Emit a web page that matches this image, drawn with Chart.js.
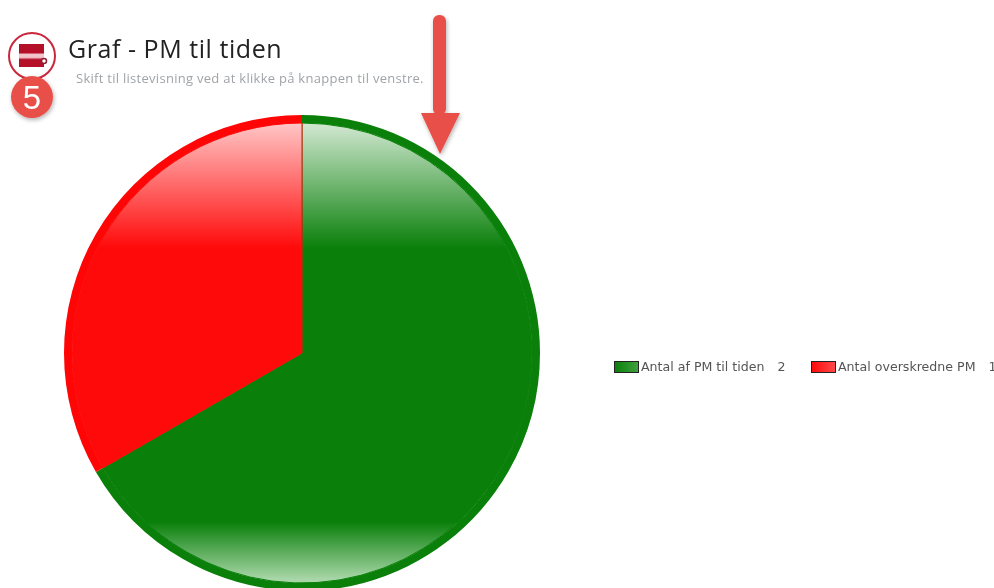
<!DOCTYPE html>
<html>
<head>
<meta charset="utf-8">
<title>Graf - PM til tiden</title>
<script src="https://cdn.jsdelivr.net/npm/chart.js@4"></script>
<style>
    html, body { margin: 0; padding: 0; background: #fff; }
    body { width: 994px; height: 588px; position: relative; overflow: hidden; }
    #pmChart { position: absolute; left: 0; top: 0; }
    #chartTitle { position: absolute; left: 68px; top: 31px; font: 25px "Open Sans", sans-serif; letter-spacing: 0.55px; color: #222; white-space: nowrap; filter: blur(0.3px); }
    #chartHint { position: absolute; left: 76px; top: 69px; font: 13px "Open Sans", sans-serif; letter-spacing: 0.28px; color: #a0a4a8; white-space: nowrap; filter: blur(0.4px); }
    #chartLegend { position: absolute; left: 614px; top: 359px; width: 380px; height: 15px; font: 12.6px "DejaVu Sans", sans-serif; color: #555; white-space: pre; filter: blur(0.4px); }
    #chartLegend .item { position: absolute; top: 0; display: flex; align-items: center; height: 15px; }
    #chartLegend .swatch { width: 23px; height: 10px; border: 1px solid #222; margin-right: 2px; }
    #chartLegend .value { margin-left: 13px; }
    #decor { position: absolute; left: 0; top: 0; }
</style>
</head>
<body>
<canvas id="pmChart" width="994" height="600"></canvas>
<div id="chartTitle">Graf - PM til tiden</div>
<div id="chartHint">Skift til listevisning ved at klikke på knappen til venstre.</div>
<div id="chartLegend"></div>
<svg id="decor" width="994" height="588">
    <defs>
        <filter id="soft" x="-40%" y="-40%" width="180%" height="180%">
            <feDropShadow dx="1" dy="2" stdDeviation="2" flood-color="#000" flood-opacity="0.3"/>
        </filter>
        <linearGradient id="stripe" x1="0" y1="0" x2="0" y2="1">
            <stop offset="0" stop-color="#b5102a"/>
            <stop offset="0.38" stop-color="#b5102a"/>
            <stop offset="0.45" stop-color="#f4c4cc"/>
            <stop offset="0.58" stop-color="#f4c4cc"/>
            <stop offset="0.68" stop-color="#b5102a"/>
            <stop offset="1" stop-color="#b5102a"/>
        </linearGradient>
    </defs>
    <!-- list view button -->
    <circle cx="32" cy="56" r="23" fill="#fff" stroke="#c8283c" stroke-width="2"/>
    <rect x="19" y="44" width="25" height="23" fill="url(#stripe)"/>
    <circle cx="44" cy="61" r="2.5" fill="#fff" stroke="#8a2030" stroke-width="1.5"/>
    <!-- step badge -->
    <circle cx="32" cy="97" r="21" fill="#e8504a" filter="url(#soft)"/>
    <text x="32" y="109" text-anchor="middle" font-family="Liberation Sans, sans-serif" font-size="33" fill="#fff">5</text>
    <!-- arrow -->
    <g filter="url(#soft)" fill="#e8504a">
        <rect x="433" y="15" width="13" height="100" rx="6"/>
        <polygon points="421,113 460,113 440,154"/>
    </g>
</svg>

<script>
const categories = ["Antal af PM til tiden", "Antal overskredne PM"];
const pmValues = [2, 1];
const fillColors = ["#0a800a", "#ff0a0a"];
const ringColors = ["#0a800a", "#ff0505"];
const topColors = ["#d2e8d2", "#ffc6c6"];
const bottomColors = ["#a8d6a8", "#ffb4b4"];
const legendSwatches = [["#0a800a", "#3fa03f"], ["#ff0a0a", "#ff4a4a"]];
const legendLefts = [0, 197];

// glossy look: light at the top and bottom of the inner pie
function glossFill(context) {
    let chart = context.chart;
    let area = chart.chartArea;
    if (!area) return fillColors[context.dataIndex];
    let grad = chart.ctx.createLinearGradient(0, area.top, 0, area.bottom);
    grad.addColorStop(0.017, topColors[context.dataIndex]);
    grad.addColorStop(0.28, fillColors[context.dataIndex]);
    grad.addColorStop(0.855, fillColors[context.dataIndex]);
    grad.addColorStop(0.975, bottomColors[context.dataIndex]);
    return grad;
}

new Chart(document.getElementById("pmChart").getContext("2d"), {
    type: "pie",
    data: {
        labels: categories,
        datasets: [
            { data: pmValues, backgroundColor: ringColors, borderWidth: 0, weight: 8 },
            // thin border hides the seam against the outer ring
            { data: pmValues, backgroundColor: glossFill, borderColor: fillColors, borderWidth: 1, weight: 230 }
        ]
    },
    options: {
        responsive: false,
        animation: false,
        layout: { padding: { left: 64, top: 115, right: 454, bottom: 9 } },
        plugins: { legend: { display: false }, tooltip: { enabled: false } }
    }
});

// legend next to the pie
let legend = document.getElementById("chartLegend");
categories.forEach((name, i) => {
    let item = document.createElement("div");
    item.className = "item";
    item.style.left = legendLefts[i] + "px";
    let swatch = document.createElement("span");
    swatch.className = "swatch";
    swatch.style.background = `linear-gradient(90deg, ${legendSwatches[i][0]}, ${legendSwatches[i][1]})`;
    let label = document.createElement("span");
    label.textContent = name;
    let value = document.createElement("span");
    value.className = "value";
    value.textContent = pmValues[i];
    item.append(swatch, label, value);
    legend.append(item);
});
</script>
</body>
</html>
